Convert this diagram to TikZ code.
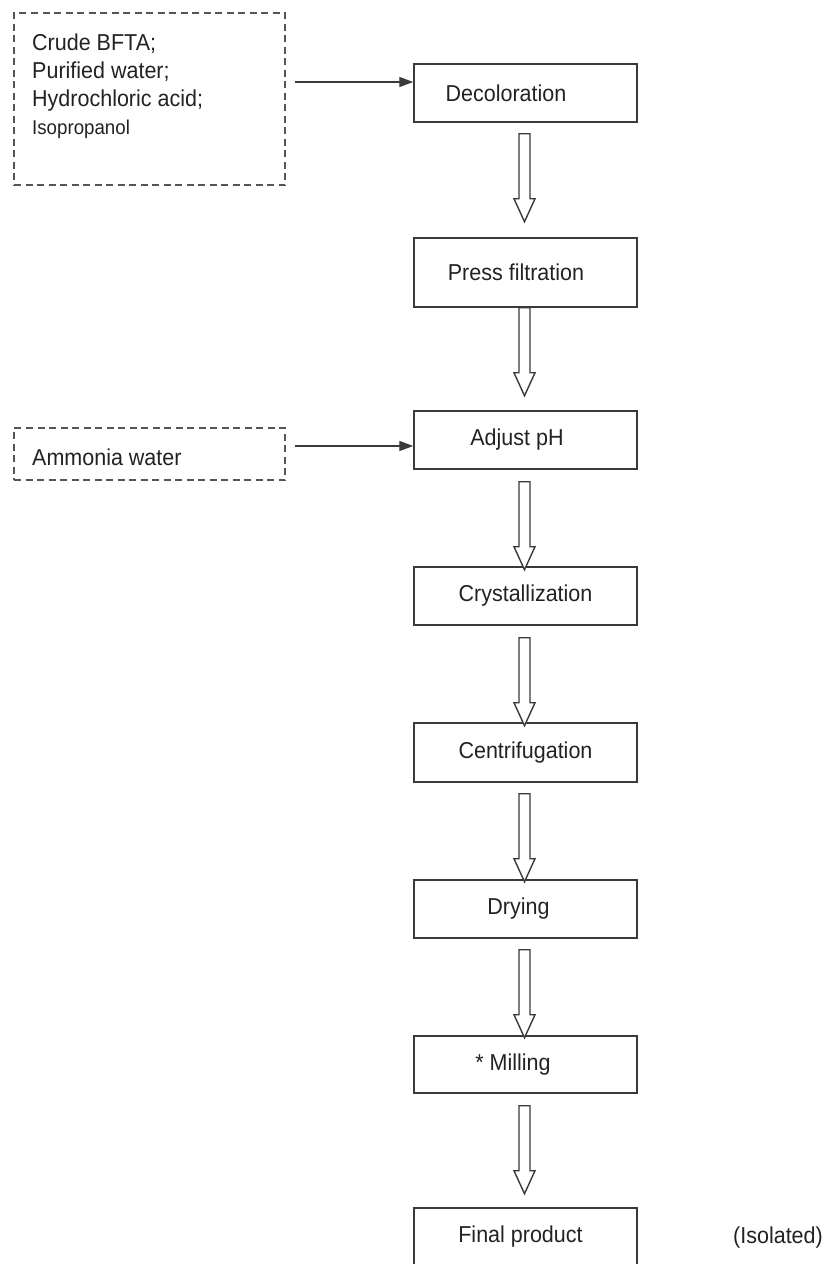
\documentclass[tikz,border=0pt]{standalone}
\usepackage{fontspec}
\setmainfont[FakeStretch=0.935]{Liberation Sans}
\usetikzlibrary{arrows.meta,calc}
\definecolor{boxline}{HTML}{3A3A3A}
\definecolor{dashline}{HTML}{555555}
\definecolor{txt}{HTML}{222222}
\newcommand\hollowarr[1]{\draw[hollow] (#1) ++(-5.5,0) -- ++(0,65) -- ++(-5,0) -- ++(10.5,23) -- ++(10.5,-23) -- ++(-5,0) -- ++(0,-65) -- cycle;}
\begin{document}
\begin{tikzpicture}[x=1pt,y=-1pt,
  stepbox/.style={draw=boxline,line width=1.5pt,minimum width=223pt,inner sep=0pt,
    font=\fontsize{23}{28}\selectfont,text=txt},
  inbox/.style={draw=dashline,line width=1.5pt,dash pattern=on 7pt off 4.5pt,inner sep=0pt,
    minimum width=271pt},
  hollow/.style={draw=boxline,line width=1.4pt,fill=white,line join=miter},
  feed/.style={draw=boxline,line width=1.4pt,-{Triangle[length=14pt,width=10pt]}},
  lbl/.style={inner sep=0pt,font=\fontsize{23}{28}\selectfont,text=txt}]
\useasboundingbox (0,0) rectangle (825,1264);

% input boxes
\node[inbox,minimum height=172pt] (in1) at (149.5,99) {};
\node[lbl,anchor=north west,align=left] (in1t) at (32,34)
  {Crude BFTA;\\Purified water;\\Hydrochloric acid;\\{\fontsize{20}{28}\selectfont Isopropanol}};
\node[inbox,minimum height=52pt] (in2) at (149.5,454) {};
\node[lbl,anchor=west] (in2t) at (32,457) {Ammonia water};

% process steps
\node[stepbox,minimum height=58pt] (dec) at (525.5,93) {\hspace*{-39pt}Decoloration};
\node[stepbox,minimum height=69pt] (prs) at (525.5,272.5) {\hspace*{-19pt}Press filtration};
\node[stepbox,minimum height=58pt] (adj) at (525.5,440) {\hspace*{-17pt}Adjust pH};
\node[stepbox,minimum height=58pt] (cry) at (525.5,596) {Crystallization};
\node[stepbox,minimum height=59pt] (cen) at (525.5,752.5) {Centrifugation};
\node[stepbox,minimum height=58pt] (dry) at (525.5,909) {\hspace*{-14pt}Drying};
\node[stepbox,minimum height=57pt] (mil) at (525.5,1064.5) {\hspace*{-25pt}* Milling};
\node[stepbox,minimum height=58pt] (fin) at (525.5,1237) {\hspace*{-10pt}Final product};
\node[lbl] (iso) at (778,1238) {(Isolated)};

% feed arrows
\coordinate (f1) at ([yshift=11pt]dec.west);
\draw[feed] ($(in1.east |- f1)+(9,0)$) -- (f1);
\coordinate (f2) at ([yshift=-6pt]adj.west);
\draw[feed] ($(in2.east |- f2)+(9,0)$) -- (f2);

% hollow flow arrows
\coordinate (a1) at ($(dec.south)+(-1,11)$);
\coordinate (a2) at ($(prs.south)+(-1,0)$);
\coordinate (a3) at ($(adj.south)+(-1,12)$);
\coordinate (a4) at ($(cry.south)+(-1,12)$);
\coordinate (a5) at ($(cen.south)+(-1,11)$);
\coordinate (a6) at ($(dry.south)+(-1,11)$);
\coordinate (a7) at ($(mil.south)+(-1,12)$);
\hollowarr{a1}
\hollowarr{a2}
\hollowarr{a3}
\hollowarr{a4}
\hollowarr{a5}
\hollowarr{a6}
\hollowarr{a7}
\end{tikzpicture}
\end{document}
